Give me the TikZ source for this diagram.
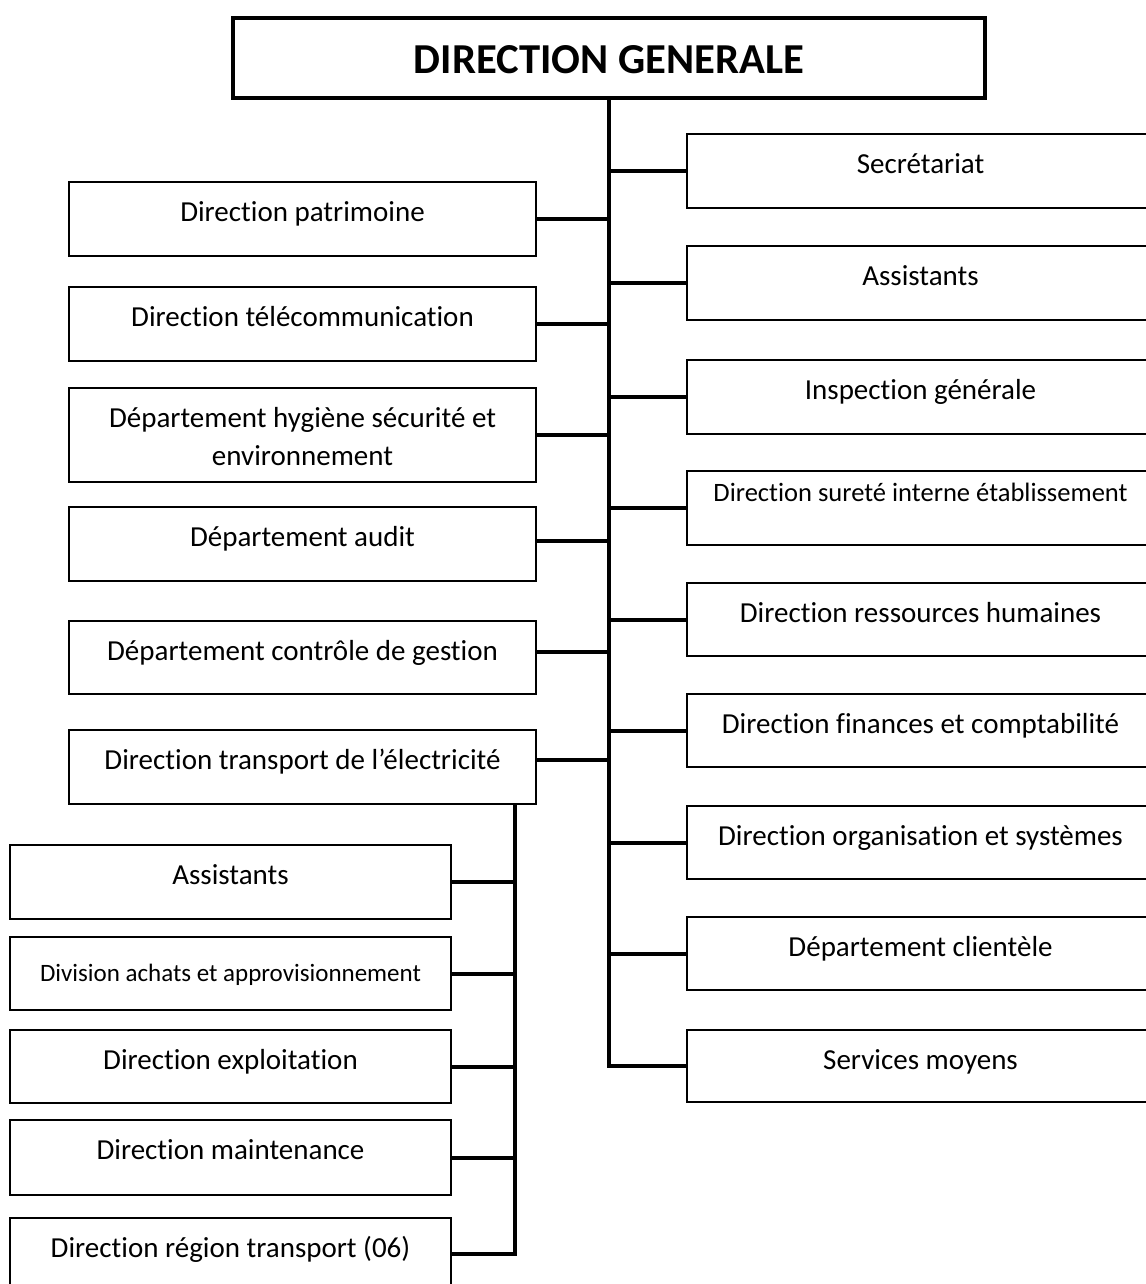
\documentclass[tikz,border=0pt]{standalone}
\usepackage{fontspec}
\setmainfont[Ligatures=NoCommon]{Carlito}
\usetikzlibrary{calc}

% a framed unit: name, left, top, right, bottom (pixel grid, y downwards)
\newcommand\orgunit[5]{%
  \node[unitbox, minimum width={(#4-#2)*0.75pt}, minimum height={(#5-#3)*0.75pt}] (#1) at (#2,#3) {};}

\begin{document}
\begin{tikzpicture}[x=0.75pt,y=-0.75pt,
  unitbox/.style={draw, line width=1.1pt, rectangle, inner sep=0pt, outer sep=0pt, anchor=north west},
  topbox/.style={unitbox, line width=3pt},
  link/.style={line width=3pt},
  txt/.style={anchor=base, inner sep=0pt, font=\fontsize{21.75}{28.5}\selectfont, align=center},
  smalltxt/.style={txt, font=\fontsize{19.9}{24}\selectfont},
  tinytxt/.style={txt, font=\fontsize{18.75}{22}\selectfont},
  titletxt/.style={anchor=base, inner sep=0pt, font=\bfseries\fontsize{32}{38}\selectfont}]

\useasboundingbox (0,0) rectangle (1145,1284);

% head office
\node[topbox, minimum width={752*0.75pt}, minimum height={80*0.75pt}] (dg) at (233,18) {};
\node[titletxt] (dg-t) at (609,74) {DIRECTION GENERALE};

% right column
\orgunit{R1}{687}{134}{1154}{208}
\orgunit{R2}{687}{246}{1154}{320}
\orgunit{R3}{687}{360}{1154}{434}
\orgunit{R4}{687}{471}{1154}{545}
\orgunit{R5}{687}{583}{1154}{656}
\orgunit{R6}{687}{694}{1154}{767}
\orgunit{R7}{687}{806}{1154}{879}
\orgunit{R8}{687}{917}{1154}{990}
\orgunit{R9}{687}{1030}{1154}{1102}
\node[txt] (R1-t) at ($(R1.north)+(0,39)$) {Secrétariat};
\node[txt] (R2-t) at ($(R2.north)+(0,39)$) {Assistants};
\node[txt] (R3-t) at ($(R3.north)+(0,39)$) {Inspection générale};
\node[smalltxt] (R4-t) at ($(R4.north)+(0,30)$) {Direction sureté interne établissement};
\node[txt] (R5-t) at ($(R5.north)+(0,39)$) {Direction ressources humaines};
\node[txt] (R6-t) at ($(R6.north)+(0,39)$) {Direction finances et comptabilité};
\node[txt] (R7-t) at ($(R7.north)+(0,39)$) {Direction organisation et systèmes};
\node[txt] (R8-t) at ($(R8.north)+(0,39)$) {Département clientèle};
\node[txt] (R9-t) at ($(R9.north)+(0,39)$) {Services moyens};

% left column
\orgunit{L1}{69}{182}{536}{256}
\orgunit{L2}{69}{287}{536}{361}
\orgunit{L3}{69}{388}{536}{482}
\orgunit{L4}{69}{507}{536}{581}
\orgunit{L5}{69}{621}{536}{694}
\orgunit{L6}{69}{730}{536}{804}
\node[txt] (L1-t) at ($(L1.north)+(0,39)$) {Direction patrimoine};
\node[txt] (L2-t) at ($(L2.north)+(0,39)$) {Direction télécommunication};
% two lines: the base anchor sits on the last line
\node[txt] (L3-t) at ($(L3.north)+(0,77)$) {Département hygiène sécurité et\\environnement};
\node[txt] (L4-t) at ($(L4.north)+(0,39)$) {Département audit};
\node[txt] (L5-t) at ($(L5.north)+(0,39)$) {Département contrôle de gestion};
\node[txt] (L6-t) at ($(L6.north)+(0,39)$) {Direction transport de l’électricité};

% units under the transport directorate
\orgunit{S1}{10}{845}{451}{919}
\orgunit{S2}{10}{937}{451}{1010}
\orgunit{S3}{10}{1030}{451}{1103}
\orgunit{S4}{10}{1120}{451}{1195}
\orgunit{S5}{10}{1218}{451}{1290}
\node[txt] (S1-t) at ($(S1.north)+(0,39)$) {Assistants};
\node[tinytxt] (S2-t) at ($(S2.north)+(0,44)$) {Division achats et approvisionnement};
\node[txt] (S3-t) at ($(S3.north)+(0,39)$) {Direction exploitation};
\node[txt] (S4-t) at ($(S4.north)+(0,39)$) {Direction maintenance};
\node[txt] (S5-t) at ($(S5.north)+(0,39)$) {Direction région transport (06)};

% main spine and its branches
\draw[link] (dg.south) |- (R9.west);
\foreach \r in {R1,R2,R3,R4,R5,R6,R7,R8}
  \draw[link] (\r.west) -- (\r.west -| dg.south);
\draw[link] (L1.east) -- (L1.east -| dg.south);
\draw[link] (L2.east) -- (L2.east -| dg.south);
\draw[link] (L3.east) -- (L3.east -| dg.south);
\draw[link] ([yshift=2pt]L4.east) -- ([yshift=2pt]L4.east -| dg.south);
\draw[link] ([yshift=4.5pt]L5.east) -- ([yshift=4.5pt]L5.east -| dg.south);
\draw[link] ([yshift=5pt]L6.east) -- ([yshift=5pt]L6.east -| dg.south);

% secondary spine below the transport directorate
\coordinate (tap) at (515,804);
\draw[link] (tap) |- (S5.east);
\foreach \s in {S1,S2,S3,S4}
  \draw[link] (\s.east) -- (\s.east -| tap);
\end{tikzpicture}
\end{document}
